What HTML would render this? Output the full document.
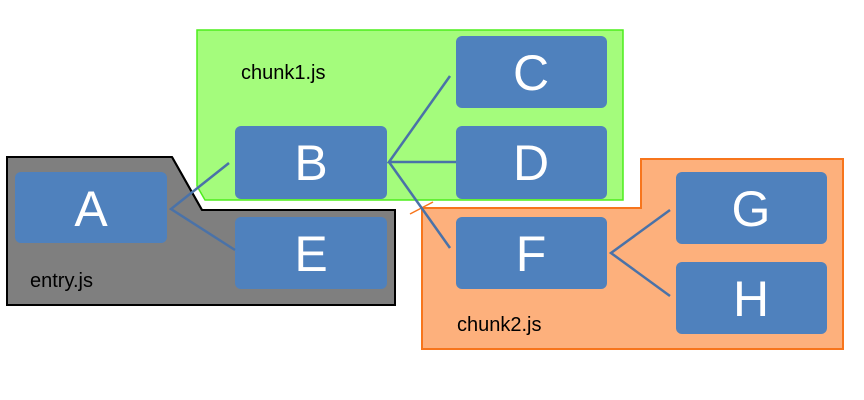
<!DOCTYPE html>
<html><head><meta charset="utf-8"><style>
body{margin:0;background:#fff;}
svg{display:block;}
.b{fill:#4f81bd;}
.t{fill:#fff;font-family:"Liberation Sans",sans-serif;font-size:50px;text-anchor:middle;}
.l{font-family:"Liberation Sans",sans-serif;font-size:20px;fill:#000;}
.c{stroke:#4a72a8;stroke-width:2.5;fill:none;}
</style></head><body>
<svg width="864" height="400" viewBox="0 0 864 400">
<polygon points="7,157 172,157 202,210 395,210 395,305 7,305" fill="#7f7f7f" stroke="#000" stroke-width="2"/>
<polygon points="197,30 623,30 623,200 205,200 197,186" fill="#a4fc7c" stroke="#4ded1c" stroke-width="1.5"/>
<line x1="172" y1="157" x2="202" y2="210" stroke="#000" stroke-width="2"/>
<polygon points="422,208 641,208 641,159 843,159 843,349 422,349" fill="#fdb07c" stroke="#f7751c" stroke-width="2"/>
<line x1="410" y1="214" x2="433" y2="202" stroke="#f7751c" stroke-width="1.5"/>
<rect class="b" x="15" y="172" width="152" height="71" rx="6"/>
<rect class="b" x="235" y="126" width="152" height="73" rx="6"/>
<rect class="b" x="235" y="217" width="152" height="72" rx="6"/>
<rect class="b" x="456" y="36" width="151" height="72" rx="6"/>
<rect class="b" x="456" y="126" width="151" height="73" rx="6"/>
<rect class="b" x="456" y="217" width="151" height="72" rx="6"/>
<rect class="b" x="676" y="172" width="151" height="72" rx="6"/>
<rect class="b" x="676" y="262" width="151" height="72" rx="6"/>
<polyline class="c" points="229,163 171,209 235,250"/>
<polyline class="c" points="450,76 389,162 456,162"/>
<line class="c" x1="389" y1="162" x2="450" y2="248"/>
<polyline class="c" points="670,210 611,253 670,296"/>
<text class="t" x="91" y="226">A</text>
<text class="t" x="311" y="180">B</text>
<text class="t" x="311" y="271">E</text>
<text class="t" x="531" y="90">C</text>
<text class="t" x="531" y="180">D</text>
<text class="t" x="531" y="271">F</text>
<text class="t" x="751" y="226">G</text>
<text class="t" x="751" y="316">H</text>
<text class="l" x="241" y="79">chunk1.js</text>
<text class="l" x="30" y="287">entry.js</text>
<text class="l" x="457" y="331">chunk2.js</text>
</svg>
</body></html>
